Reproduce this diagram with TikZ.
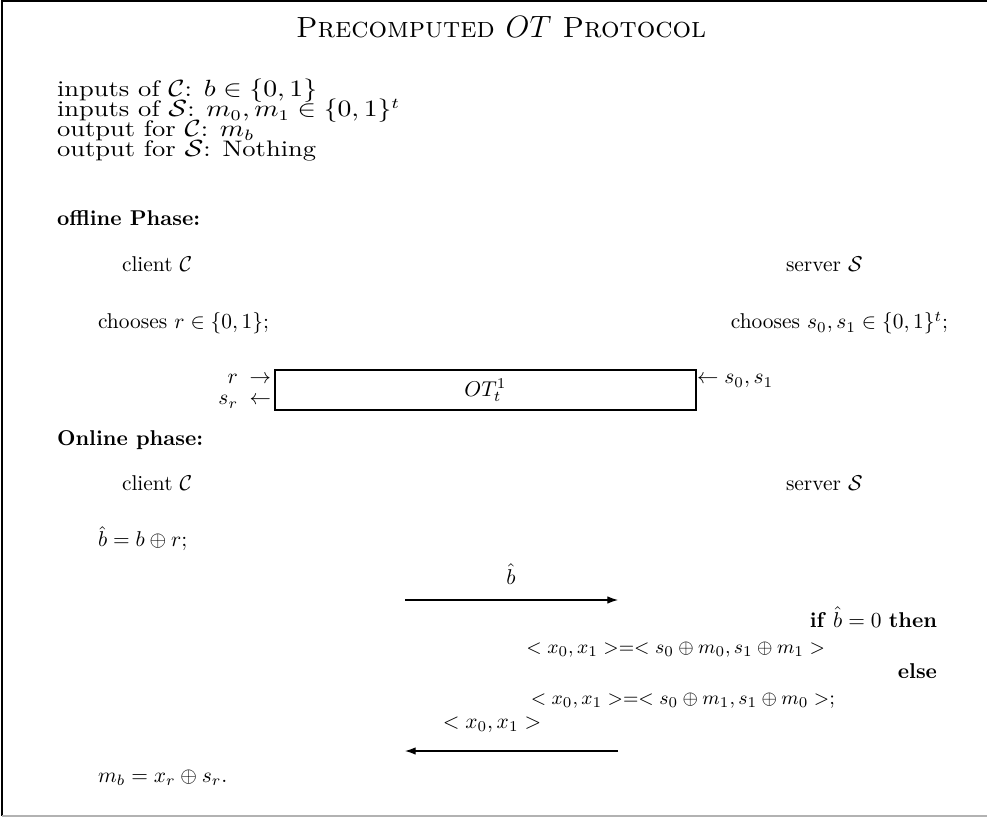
\documentclass[tikz,border=0pt]{standalone}
\usepackage{amsmath,amssymb}
\usetikzlibrary{arrows.meta}
\begin{document}
\begin{tikzpicture}[x=0.467pt,y=-0.467pt,
  txt/.style={inner sep=0pt,outer sep=0pt,font=\fontsize{10}{12}\selectfont},
  mth/.style={inner sep=0pt,outer sep=0pt,font=\fontsize{9.3}{11}\selectfont},
  big/.style={inner sep=0pt,outer sep=0pt,font=\fontsize{10.5}{12}\selectfont},
  ttl/.style={inner sep=0pt,outer sep=0pt,font=\fontsize{13.6}{16}\selectfont},
  msg/.style={-{Latex[length=5pt,width=3.5pt]},line width=0.5pt},
  otbox/.style={draw,line width=0.5pt,minimum width=421*0.467pt,minimum height=40*0.467pt,inner sep=0pt}]
\useasboundingbox (0,0) rectangle (987,818);
\draw[line width=0.5pt] (995,1) -- (2,1) -- (2,816);
\draw[line width=0.5pt,black!30] (2,816) -- (995,816);
% title
\node[ttl] (title) at (501,27) {\textsc{Precomputed $OT$ Protocol}};
% inputs
\node[big,anchor=base west] (in1) at (57,97) {\scalebox{1.18}[1]{inputs of $\mathcal{C}$: $b\in\{0,1\}$}};
\node[big,anchor=base west] (in2) at (57,117) {\scalebox{1.18}[1]{inputs of $\mathcal{S}$: $m_0,m_1\in\{0,1\}^t$}};
\node[big,anchor=base west] (in3) at (57,137) {\scalebox{1.18}[1]{output for $\mathcal{C}$: $m_b$}};
\node[big,anchor=base west] (in4) at (57,157) {\scalebox{1.18}[1]{output for $\mathcal{S}$: Nothing}};
% offline
\node[txt,anchor=base west] (off) at (57,226) {\textbf{offline Phase:}};
\node[txt,anchor=base west] (c1) at (122,272) {client $\mathcal{C}$};
\node[txt,anchor=base west] (s1) at (786,272) {server $\mathcal{S}$};
\node[txt,anchor=base west] (ch1) at (98,329) {chooses $r\in\{0,1\}$;};
\node[txt,anchor=base east] (ch2) at (948,329) {chooses $s_0,s_1\in\{0,1\}^t$;};
\node[otbox] (ot) at (485.5,390) {$OT_t^1$};
\node[txt,anchor=base east] (ra) at (271,384) {$\rightarrow$};
\node[txt,anchor=base east] (rl) at (238,384) {$r$};
\node[txt,anchor=base east] (sa) at (271,405) {$\leftarrow$};
\node[txt,anchor=base east] (sl) at (238,405) {$s_r$};
\node[txt,anchor=base west] (sa2) at (697,384) {$\leftarrow s_0,s_1$};
% online
\node[txt,anchor=base west] (on) at (57,446) {\textbf{Online phase:}};
\node[txt,anchor=base west] (c2) at (122,491) {client $\mathcal{C}$};
\node[txt,anchor=base west] (s2) at (786,491) {server $\mathcal{S}$};
\node[txt,anchor=base west] (bh) at (98,547) {$\hat{b}=b\oplus r$;};
\coordinate (m1a) at (405,600);
\coordinate (m1b) at (618,600);
\draw[msg] (m1a) -- (m1b);
\node[txt,anchor=base] (m1l) at (511,584) {$\hat{b}$};
\node[txt,anchor=base east] (if) at (937,627) {\textbf{if} $\hat{b}=0$ \textbf{then}};
\node[mth,anchor=base east] (x1) at (825,653) {$<x_0,x_1>=<s_0\oplus m_0,s_1\oplus m_1>$};
\node[txt,anchor=base east] (el) at (937,678) {\textbf{else}};
\node[mth,anchor=base east] (x2) at (835,704) {$<x_0,x_1>=<s_0\oplus m_1,s_1\oplus m_0>$;};
\coordinate (m2a) at (618,751);
\coordinate (m2b) at (405,751);
\draw[msg] (m2a) -- (m2b);
\node[txt,anchor=base] (m2l) at (492,728) {$<x_0,x_1>$};
\node[txt,anchor=base west] (mb) at (98,782) {$m_b=x_r\oplus s_r$.};
\end{tikzpicture}
\end{document}
